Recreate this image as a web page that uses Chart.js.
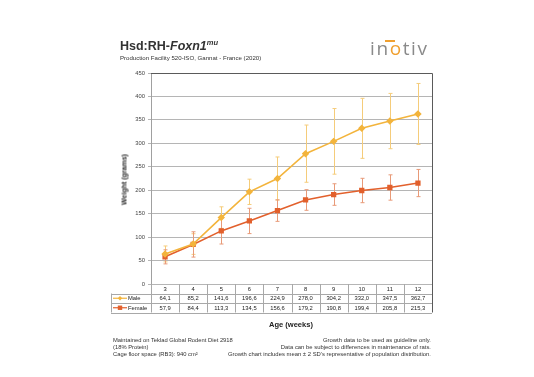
<!DOCTYPE html>
<html><head><meta charset="utf-8">
<script src="https://cdn.jsdelivr.net/npm/chart.js@4/dist/chart.umd.min.js"></script>
<style>
html,body{margin:0;padding:0;background:#fff;width:534px;height:377px;overflow:hidden;font-family:"Liberation Sans",Arial,sans-serif;}
#wrap{position:relative;width:534px;height:377px;}
canvas{position:absolute;left:0;top:0;}
.t{position:absolute;white-space:nowrap;color:#222;}
</style></head><body>
<div id="wrap">
<canvas id="c" width="534" height="377"></canvas>
<div class="t" style="left:120px;top:38px;font-size:12.5px;font-weight:bold;color:#333;">Hsd:RH-<i>Foxn1</i><sup style="font-size:7.5px;font-style:italic;vertical-align:5px;">mu</sup></div>
<div class="t" style="left:120px;top:54px;font-size:6.1px;color:#333;">Production Facility 520-ISO, Gannat - France (2020)</div>
<div class="t" style="left:370px;top:35px;font-size:19px;line-height:26px;color:#8a8a8a;letter-spacing:1.6px;font-family:'Open Sans',sans-serif;">in<span style="color:#f0a030;">o</span>tiv</div>
<div style="position:absolute;left:385px;top:40px;width:10px;height:1.6px;background:#f0a030;"></div>
<div class="t" style="left:94px;top:176px;width:60px;text-align:center;font-size:7px;font-weight:bold;transform:rotate(-90deg);transform-origin:center;">Weight (grams)</div>
<div class="t" style="left:251px;top:320px;width:80px;text-align:center;font-size:7.5px;font-weight:bold;">Age (weeks)</div>
<div class="t" style="left:113px;top:337px;font-size:5.8px;line-height:7px;color:#333;">Maintained on Teklad Global Rodent Diet 2918<br>(18% Protein)<br>Cage floor space (RB3): 940 cm²</div>
<div class="t" style="right:103px;top:337px;font-size:5.9px;line-height:7px;color:#333;text-align:right;">Growth data to be used as guideline only.<br>Data can be subject to differences in maintenance of rats.<br>Growth chart includes mean ± 2 SD's representative of population distribution.</div>
</div>
<script>
const weeks = ['3','4','5','6','7','8','9','10','11','12'];
const maleMean = [64.1,85.2,141.6,196.6,224.9,278.0,304.2,332.0,347.5,362.7];
const femaleMean = [57.9,84.4,113.3,134.5,156.6,179.2,190.8,199.4,205.8,215.3];
const male2SD = [17,22,23,27,46,61,70,64,59,65];
const female2SD = [15,27,28,27,23,22,23,26,27,29];
const yTicks = [0,50,100,150,200,250,300,350,400,450];

const MALE = '#f3b43c', MALE_ERR = '#f5cc7a';
const FEMALE = '#e2602c', FEMALE_ERR = '#e89a78';

function fmt(v){return v.toFixed(1).replace('.',',');}

const extras = {
  id:'extras',
  beforeDatasetsDraw(chart){
    const ctx = chart.ctx, x = chart.scales.x, y = chart.scales.y;
    const sets = [[maleMean,male2SD,MALE_ERR],[femaleMean,female2SD,FEMALE_ERR]];
    ctx.save();
    ctx.lineWidth = 1;
    sets.forEach(([m,e,col])=>{
      ctx.strokeStyle = col;
      m.forEach((v,i)=>{
        const px = Math.round(x.getPixelForValue(i))+0.5;
        const t = y.getPixelForValue(v+e[i]), b = y.getPixelForValue(v-e[i]);
        ctx.beginPath();
        ctx.moveTo(px,t);ctx.lineTo(px,b);
        ctx.moveTo(px-2,t);ctx.lineTo(px+2,t);
        ctx.moveTo(px-2,b);ctx.lineTo(px+2,b);
        ctx.stroke();
      });
    });
    ctx.restore();
  },
  afterDraw(chart){
    const ctx = chart.ctx, x = chart.scales.x, a = chart.chartArea;
    const rh = 9.5, y0 = a.bottom, L = 111, n = weeks.length;
    const cw = (a.right-a.left)/n;
    ctx.save();
    ctx.strokeStyle = '#5a5a5a'; ctx.lineWidth = 1;
    ctx.beginPath();
    ctx.moveTo(a.left, Math.round(a.top)+0.5); ctx.lineTo(Math.round(a.right)+0.5, Math.round(a.top)+0.5);
    ctx.lineTo(Math.round(a.right)+0.5, y0+3*rh);
    ctx.stroke();
    ctx.strokeStyle = '#a8a8a8';
    ctx.beginPath();
    for(let r=1;r<=3;r++){
      const yy = Math.round(y0+r*rh)+0.5;
      ctx.moveTo(L,yy);ctx.lineTo(a.right,yy);
    }
    ctx.moveTo(L+0.5,y0+rh);ctx.lineTo(L+0.5,y0+3*rh);
    for(let i=0;i<n;i++){
      const xx = Math.round(a.left+i*cw)+0.5;
      ctx.moveTo(xx,y0);ctx.lineTo(xx,y0+3*rh);
    }
    ctx.stroke();
    ctx.fillStyle = '#222';
    ctx.font = '5.8px "Liberation Sans", Arial, sans-serif';
    ctx.textAlign = 'center'; ctx.textBaseline = 'middle';
    for(let i=0;i<n;i++){
      const cx = x.getPixelForValue(i);
      ctx.fillText(weeks[i], cx, y0+rh*0.5+0.5);
      ctx.fillText(fmt(maleMean[i]), cx, y0+rh*1.5+0.5);
      ctx.fillText(fmt(femaleMean[i]), cx, y0+rh*2.5+0.5);
    }
    const leg = [[MALE,'Male','diamond',y0+rh*1.5],[FEMALE,'Female','square',y0+rh*2.5]];
    leg.forEach(([col,label,shape,yy])=>{
      ctx.strokeStyle = col; ctx.fillStyle = col; ctx.lineWidth = 1.2;
      ctx.beginPath(); ctx.moveTo(113,yy); ctx.lineTo(127,yy); ctx.stroke();
      if(shape==='diamond'){
        ctx.beginPath(); ctx.moveTo(120,yy-2.2);ctx.lineTo(122.2,yy);ctx.lineTo(120,yy+2.2);ctx.lineTo(117.8,yy);ctx.closePath();ctx.fill();
      } else {
        ctx.fillRect(117.8,yy-2.2,4.4,4.4);
      }
      ctx.fillStyle = '#222'; ctx.textAlign='left';
      ctx.fillText(label, 128, yy+0.5);
    });
    ctx.restore();
  }
};

new Chart(document.getElementById('c'),{
  type:'line',
  data:{labels:weeks,datasets:[
    {label:'Male',data:maleMean,borderColor:MALE,backgroundColor:MALE,borderWidth:1.6,pointStyle:'rectRot',pointRadius:2.6,pointHoverRadius:2.6,tension:0},
    {label:'Female',data:femaleMean,borderColor:FEMALE,backgroundColor:FEMALE,borderWidth:1.6,pointStyle:'rect',pointRadius:2.6,pointHoverRadius:2.6,tension:0}
  ]},
  options:{
    responsive:false,animation:false,devicePixelRatio:1,
    layout:{padding:{left:0,top:73,right:102,bottom:93}},
    plugins:{legend:{display:false},tooltip:{enabled:false},title:{display:false}},
    scales:{
      x:{type:'category',offset:true,grid:{display:false},border:{display:false},ticks:{display:false},afterFit(s){s.height=0;}},
      y:{min:0,max:450,afterFit(s){s.width=151;},
        afterBuildTicks(s){s.ticks=yTicks.map(v=>({value:v}));},
        grid:{color:'#b5b5b5',lineWidth:1,drawTicks:true,tickLength:3,tickColor:'#b5b5b5'},
        border:{color:'#a0a0a0'},
        ticks:{color:'#444',font:{size:5.8,family:'"Liberation Sans", Arial, sans-serif'},padding:3}}
    }
  },
  plugins:[extras]
});
</script>
</body></html>
